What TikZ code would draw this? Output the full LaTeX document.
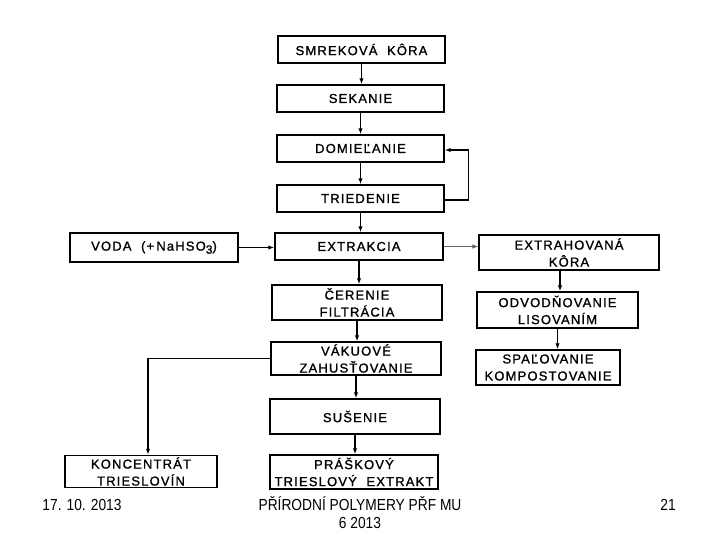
\documentclass[tikz,border=0pt]{standalone}
\usepackage{fontspec}
\usetikzlibrary{arrows.meta}
\newfontfamily\boxfont{Liberation Sans}[LetterSpace=9,FakeBold=1.2]
\newfontfamily\footfont{Liberation Sans}[FakeStretch=0.86]
\begin{document}
\begin{tikzpicture}[x=1pt,y=-1pt,
  pbox/.style={draw=black,line width=1.4pt,inner sep=0pt,align=center,
    font=\boxfont\fontsize{13}{17}\selectfont},
  arr/.style={-{Latex[length=6pt,width=4.5pt]},line width=1.3pt},
  thinarr/.style={-{Latex[length=6pt,width=4.5pt]},line width=0.6pt,draw=black!60},
  foot/.style={font=\footfont\fontsize{16}{18}\selectfont,inner sep=0pt}]
\useasboundingbox[fill=white] (0,0) rectangle (720,540);

\node[pbox,minimum width=167pt,minimum height=27pt] (A) at (361.5,49.5) {SMREKOVÁ\ \ KÔRA};
\node[pbox,minimum width=167pt,minimum height=27pt] (B) at (360.5,98.5) {SEKANIE};
\node[pbox,minimum width=167pt,minimum height=27pt] (C) at (360.5,148.5) {DOMIEĽANIE};
\node[pbox,minimum width=167pt,minimum height=27pt] (D) at (360.5,198.5) {TRIEDENIE};
\node[pbox,minimum width=168pt,minimum height=27pt] (E) at (359,246.5) {EXTRAKCIA};
\node[pbox,minimum width=168pt,minimum height=29pt] (F) at (154,247.5) {VODA\ \ (+\,NaHSO\raisebox{-0.45ex}{\fontsize{12}{12}\selectfont 3})};
\node[pbox,minimum width=180pt,minimum height=35pt] (G) at (569,252.5) {EXTRAHOVANÁ\\KÔRA};
\node[pbox,minimum width=161pt,minimum height=36pt] (H) at (557.5,310) {ODVODŇOVANIE\\LISOVANÍM};
\node[pbox,minimum width=144pt,minimum height=35pt] (I) at (548,367.5) {SPAĽOVANIE\\KOMPOSTOVANIE};
\node[pbox,minimum width=170pt,minimum height=35pt] (J) at (357,302.5) {ČERENIE\\FILTRÁCIA};
\node[pbox,minimum width=170pt,minimum height=33pt] (K) at (356,358.5) {VÁKUOVÉ\\ZAHUSŤOVANIE};
\node[pbox,minimum width=170pt,minimum height=35pt] (L) at (355,416.5) {SUŠENIE};
\node[pbox,minimum width=152pt,minimum height=32pt] (M) at (141,471.5) {KONCENTRÁT\\TRIESLOVÍN};
\node[pbox,minimum width=168pt,minimum height=34pt] (N) at (354,472) {PRÁŠKOVÝ\\TRIESLOVÝ\ \ EXTRAKT};

\draw[arr] (A.south) -- (A.south |- B.north);
\draw[arr] (B.south) -- (B.south |- C.north);
\draw[arr] (C.south) -- (C.south |- D.north);
\draw[arr] (D.south) -- (D.south |- E.north);
\draw[arr] ([yshift=-1.5pt]D.east) -- ++(24,0) |- ([yshift=-1.5pt]C.east);
\draw[arr] (F.east) -- (F.east -| E.west);
\draw[thinarr] (E.east) -- (E.east -| G.west);
\draw[arr] ([xshift=-9pt]G.south) -- ([xshift=-9pt]G.south |- H.north);
\draw[arr] (H.south) -- (H.south |- I.north);
\draw[arr] (E.south) -- (E.south |- J.north);
\draw[arr] (J.south) -- (J.south |- K.north);
\draw[arr] (K.south) -- (K.south |- L.north);
\draw[arr] (L.south) -- (L.south |- N.north);
\draw[arr] (K.west) -| ([xshift=7pt]M.north);

\node[foot] (d) at (82,505) {17. 10. 2013};
\node[foot,align=center] (t) at (360,513) {PŘÍRODNÍ POLYMERY PŘF MU\\6 2013};
\node[foot] (p) at (668,505) {21};
\end{tikzpicture}
\end{document}
